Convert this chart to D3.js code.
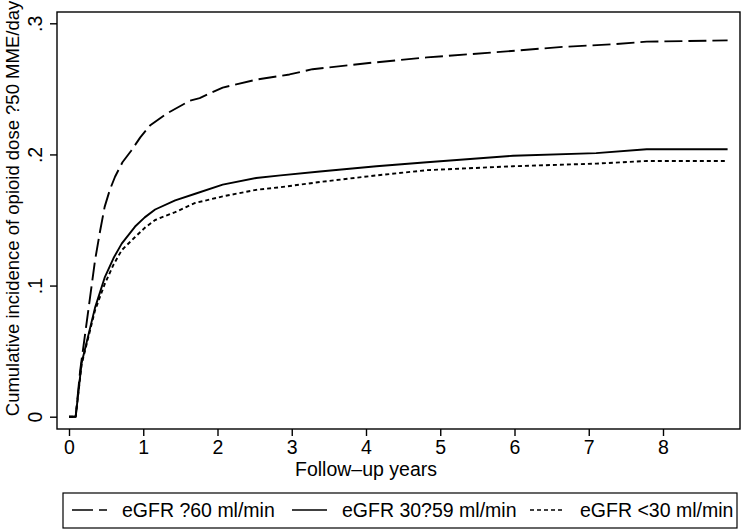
<!DOCTYPE html>
<html>
<head>
<meta charset="utf-8">
<script src="https://cdn.jsdelivr.net/npm/d3@7"></script>
<style>
    html, body { margin: 0; padding: 0; background: #fff; }
    svg { display: block; font-family: "Liberation Sans", Arial, sans-serif; }
</style>
</head>
<body>
<div id="chart"></div>
<script>
// series (follow-up years, cumulative incidence)
const gfr60Years = [0, 0.09, 0.15, 0.26, 0.35, 0.42, 0.48, 0.55, 0.62, 0.72, 0.84, 0.96, 1.09, 1.31, 1.63, 1.76, 2.07, 2.52, 2.97, 3.28, 4.09, 4.82, 5.76, 6.65, 7.32, 7.78, 8.87];
const gfr60Values = [0, 0, 0.035, 0.081, 0.119, 0.142, 0.16, 0.173, 0.183, 0.194, 0.203, 0.213, 0.222, 0.231, 0.241, 0.243, 0.251, 0.257, 0.261, 0.265, 0.270, 0.274, 0.278, 0.282, 0.284, 0.286, 0.287];

const gfr30Years = [0, 0.09, 0.17, 0.35, 0.48, 0.6, 0.71, 0.89, 1.02, 1.16, 1.43, 1.70, 2.07, 2.52, 2.85, 3.38, 4.14, 4.82, 5.98, 7.1, 7.78, 8.87];
const gfr30Values = [0, 0, 0.041, 0.083, 0.106, 0.121, 0.132, 0.145, 0.152, 0.158, 0.165, 0.170, 0.177, 0.182, 0.184, 0.187, 0.191, 0.194, 0.199, 0.201, 0.204, 0.204];

const gfrLowYears = [0, 0.09, 0.17, 0.35, 0.48, 0.6, 0.71, 0.89, 1.02, 1.16, 1.43, 1.70, 2.07, 2.52, 2.85, 3.38, 4.14, 4.82, 5.98, 7.1, 7.78, 8.87];
const gfrLowValues = [0, 0, 0.040, 0.081, 0.101, 0.116, 0.127, 0.137, 0.144, 0.150, 0.156, 0.163, 0.168, 0.173, 0.175, 0.179, 0.184, 0.188, 0.191, 0.193, 0.195, 0.195];

const seriesLabels = ["eGFR ?60 ml/min", "eGFR 30?59 ml/min", "eGFR <30 ml/min"];
const xTicks = [0, 1, 2, 3, 4, 5, 6, 7, 8];
const yTicks = [0, 0.1, 0.2, 0.3];
const yTickLabels = ["0", ".1", ".2", ".3"];

const width = 742;
const height = 530;
const frame = { left: 57, right: 740, top: 12, bottom: 429 };
const fontSize = 19.5;

const svg = d3.select("#chart").append("svg")
    .attr("width", width)
    .attr("height", height);

const x = d3.scaleLinear().domain([0, 8]).range([69, 663]);
const y = d3.scaleLinear().domain([0, 0.3]).range([416.7, 23.3]);

// plot frame
svg.append("rect")
    .attr("x", frame.left)
    .attr("y", frame.top)
    .attr("width", frame.right - frame.left)
    .attr("height", frame.bottom - frame.top)
    .attr("fill", "none")
    .attr("stroke", "#000")
    .attr("stroke-width", 1.4);

// x axis
const xAxis = svg.append("g")
    .attr("transform", `translate(0,${frame.bottom})`)
    .call(d3.axisBottom(x).tickValues(xTicks).tickSize(7).tickPadding(4).tickFormat(d3.format("d")));
xAxis.select(".domain").remove();
xAxis.selectAll("line").attr("stroke", "#000").attr("stroke-width", 1.4);
xAxis.selectAll("text")
    .attr("font-family", "Liberation Sans, Arial, sans-serif")
    .attr("font-size", fontSize)
    .attr("fill", "#000");

svg.append("text")
    .attr("x", x(4))
    .attr("y", 476)
    .attr("text-anchor", "middle")
    .attr("font-size", fontSize)
    .text("Follow\u2013up years");

// y axis
const yAxis = svg.append("g")
    .attr("transform", `translate(${frame.left},0)`)
    .call(d3.axisLeft(y).tickValues(yTicks).tickSize(7).tickFormat((d, i) => yTickLabels[i]));
yAxis.select(".domain").remove();
yAxis.selectAll("line").attr("stroke", "#000").attr("stroke-width", 1.4);
yAxis.selectAll("text")
    .attr("x", null)
    .attr("dy", null)
    .attr("font-family", "Liberation Sans, Arial, sans-serif")
    .attr("font-size", fontSize)
    .attr("fill", "#000")
    .attr("text-anchor", "middle")
    .attr("transform", "translate(-15,0) rotate(-90)");

svg.append("text")
    .attr("transform", `translate(19,${(frame.top + frame.bottom) / 2 - 12}) rotate(-90)`)
    .attr("text-anchor", "middle")
    .attr("font-size", 18.5)
    .text("Cumulative incidence of opioid dose ?50 MME/day");

// curves
const series = [
    { years: gfr60Years, values: gfr60Values, dash: "18,6" },
    { years: gfr30Years, values: gfr30Values, dash: null },
    { years: gfrLowYears, values: gfrLowValues, dash: "4,3" }
];

const line = d3.line()
    .x(d => x(d[0]))
    .y(d => y(d[1]));

svg.append("g")
    .selectAll("path")
    .data(series)
    .join("path")
    .attr("d", s => line(d3.zip(s.years, s.values)))
    .attr("fill", "none")
    .attr("stroke", "#000")
    .attr("stroke-width", 1.9)
    .attr("stroke-linejoin", "round")
    .attr("stroke-dasharray", s => s.dash);

// legend
const legend = svg.append("g");
legend.append("rect")
    .attr("x", 63)
    .attr("y", 493)
    .attr("width", 674)
    .attr("height", 35)
    .attr("fill", "none")
    .attr("stroke", "#000")
    .attr("stroke-width", 1.2);

const legendX = [72, 292, 530];
const legendDash = ["21,6", null, "4,3"];
const items = legend.selectAll("g.item")
    .data(seriesLabels)
    .join("g")
    .attr("class", "item")
    .attr("transform", (d, i) => `translate(${legendX[i]},0)`);

items.append("line")
    .attr("x1", 0)
    .attr("x2", 35)
    .attr("y1", 510)
    .attr("y2", 510)
    .attr("stroke", "#000")
    .attr("stroke-width", 1.6)
    .attr("stroke-dasharray", (d, i) => legendDash[i]);

items.append("text")
    .attr("x", 50)
    .attr("y", 517)
    .attr("font-size", fontSize)
    .text(d => d);
</script>
</body>
</html>
